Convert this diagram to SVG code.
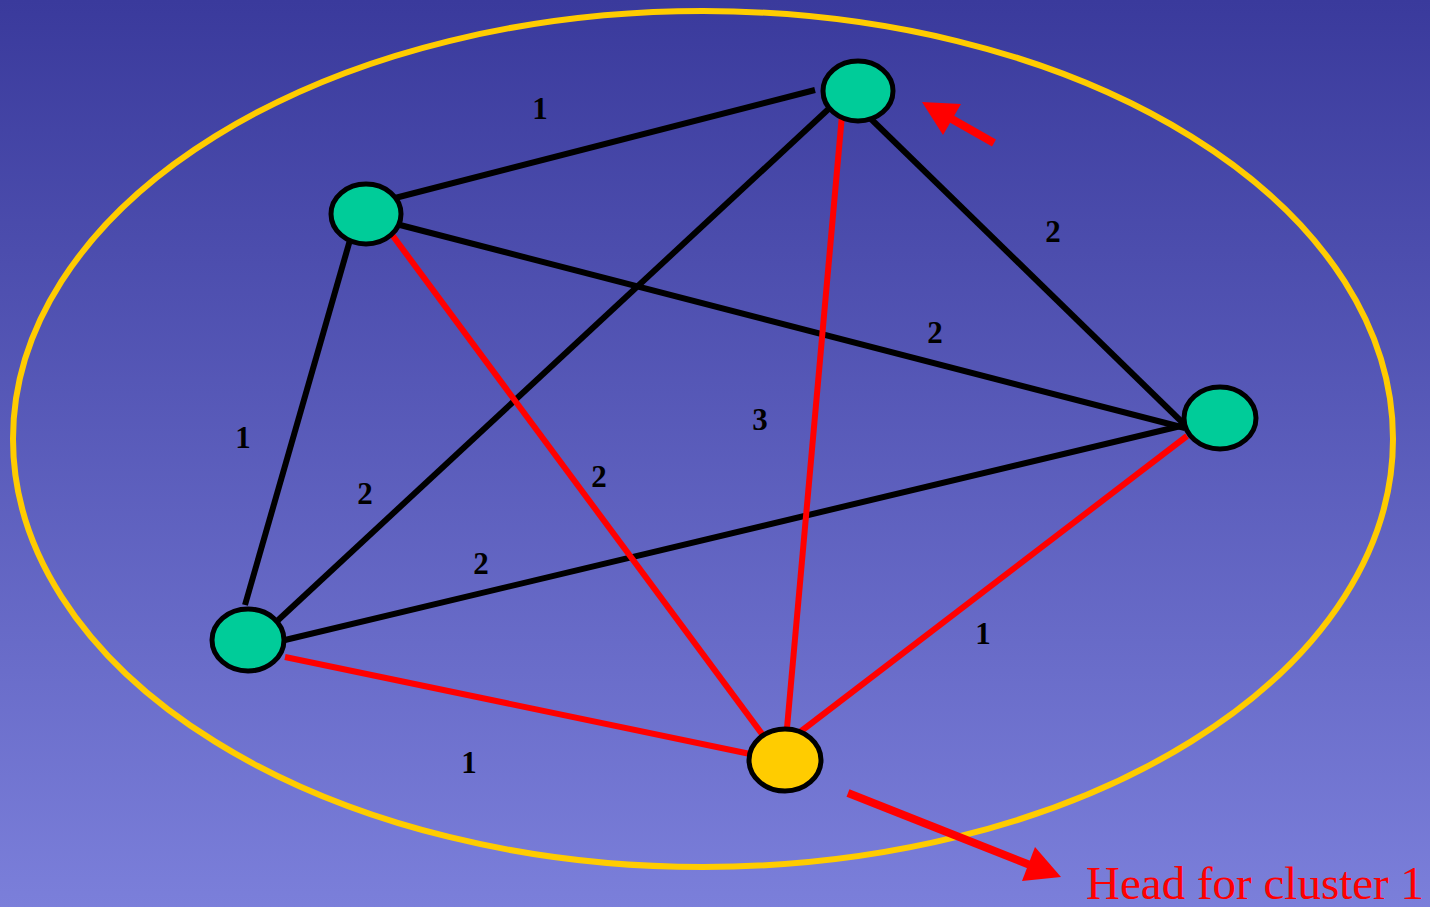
<svg xmlns="http://www.w3.org/2000/svg" width="1430" height="907" viewBox="0 0 1430 907">
<defs>
<linearGradient id="bg" x1="0" y1="0" x2="0" y2="1">
<stop offset="0" stop-color="#3A3A9C"/>
<stop offset="1" stop-color="#7B7FDA"/>
</linearGradient>
</defs>
<style>
.node{fill:#00CC99;stroke:#000;stroke-width:5}
.head{fill:#FFCC00;stroke:#000;stroke-width:5}
.k{stroke:#000;stroke-width:6;fill:none}
.r{stroke:#FF0000;stroke-width:6;fill:none}
.lbl{font-family:"Liberation Serif",serif;font-weight:bold;font-size:31px;fill:#000;text-anchor:middle}
</style>
<rect width="1430" height="907" fill="url(#bg)"/>
<ellipse cx="703" cy="439" rx="690" ry="428" fill="none" stroke="#FFCC00" stroke-width="6"/>
<g id="connectors">
<line class="k" x1="395" y1="198" x2="815" y2="90"/>
<line class="k" x1="400" y1="225" x2="1185" y2="428"/>
<line class="k" x1="350" y1="240" x2="245" y2="605"/>
<line class="k" x1="835" y1="103" x2="275" y2="623"/>
<line class="k" x1="870" y1="118" x2="1185" y2="425"/>
<line class="k" x1="285" y1="640" x2="1185" y2="425"/>
<line class="r" x1="390" y1="232" x2="768" y2="742"/>
<line class="r" x1="842" y1="115" x2="787" y2="728"/>
<line class="r" x1="1187" y1="436" x2="800" y2="732"/>
<line class="r" x1="285" y1="657" x2="755" y2="755"/>
<line stroke="#FF0000" stroke-width="8" x1="994" y1="143" x2="950" y2="118"/>
<polygon fill="#FF0000" points="922,102 961,104 943,135"/>
<line stroke="#FF0000" stroke-width="8" x1="848" y1="793" x2="1030" y2="865"/>
<polygon fill="#FF0000" points="1061,877 1035,847 1022,881"/>
</g>
<g id="labels">
<text class="lbl" x="540" y="119">1</text>
<text class="lbl" x="1053" y="242">2</text>
<text class="lbl" x="935" y="343">2</text>
<text class="lbl" x="243" y="448">1</text>
<text class="lbl" x="760" y="430">3</text>
<text class="lbl" x="599" y="487">2</text>
<text class="lbl" x="365" y="504">2</text>
<text class="lbl" x="481" y="574">2</text>
<text class="lbl" x="983" y="644">1</text>
<text class="lbl" x="469" y="773">1</text>
</g>
<g id="nodeA"><ellipse class="node" cx="858" cy="91" rx="35" ry="30"/></g>
<g id="nodeB"><ellipse class="node" cx="366" cy="214" rx="35" ry="30"/></g>
<g id="nodeC"><ellipse class="node" cx="1220" cy="418" rx="36" ry="31"/></g>
<g id="nodeD"><ellipse class="node" cx="248" cy="640" rx="36" ry="31"/></g>
<g id="nodeE"><ellipse class="head" cx="785" cy="760" rx="36" ry="31"/></g>
<text x="1086" y="899" font-family="'Liberation Serif',serif" font-size="47" fill="#FF0000">Head for cluster 1</text>
</svg>
